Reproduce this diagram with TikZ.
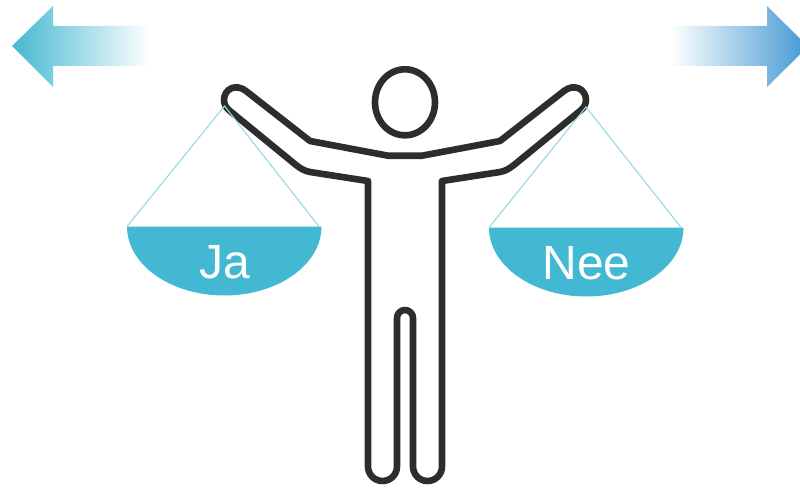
\documentclass[tikz,border=0pt]{standalone}
\usepackage{fontspec}
\setmainfont{Liberation Sans}
\definecolor{figdark}{HTML}{2D2D2D}
\definecolor{panblue}{HTML}{42B8D2}
\definecolor{stringblue}{HTML}{98D8E6}
\definecolor{arrowteal}{HTML}{45B8D2}
\definecolor{arrowblue}{HTML}{4298D2}
\tikzset{
  figline/.style={draw=figdark,line width=6.6pt,line join=round,line cap=round},
  stringline/.style={draw=stringblue,line width=1.1pt},
  panshape/.style={fill=panblue},
  panlabel/.style={text=white,font=\fontsize{48}{48}\selectfont,anchor=base,inner sep=0pt}
}
\begin{document}
\begin{tikzpicture}[x=1pt,y=-1pt]
\useasboundingbox (0,0) rectangle (800,487);
\clip (0,0) rectangle (800,487);
% arrows
\shade[left color=arrowteal,right color=white]
  (12,46) -- (53,6) -- (53,26) -- (150,26) -- (150,66) -- (53,66) -- (53,87) -- cycle;
\shade[left color=white,right color=arrowblue]
  (670,26) -- (767,26) -- (767,6) -- (808,46.5) -- (767,87) -- (767,66) -- (670,66) -- cycle;
% head
\draw[figline] (405,102.3) ellipse [x radius=30,y radius=33];
% body
\draw[figline]
  (368,181) -- (368,466.5) arc[start angle=180,end angle=0,radius=14.5]
  -- (397,318) arc[start angle=180,end angle=360,radius=8]
  -- (413,466.5) arc[start angle=180,end angle=0,radius=14.5]
  -- (442,181) -- (500,172) .. controls (506,171) and (510,168) .. (514,165)
  -- (580,111) .. controls (584,108) and (586,104) .. (586,100)
  .. controls (586,89) and (574,83) .. (564,91)
  -- (500,141) -- (422,155.7) -- (388,155.7) -- (310,141)
  -- (246,91) .. controls (236,83) and (224,89) .. (224,100)
  .. controls (224,104) and (226,108) .. (230,111)
  -- (296,165) .. controls (300,168) and (304,171) .. (310,172) -- cycle;
% pans
\fill[panshape] (127,226.5) -- (321.5,226.5) arc[start angle=0,end angle=180,x radius=97.25,y radius=69] -- cycle;
\fill[panshape] (489,227.5) -- (683.5,227.5) arc[start angle=0,end angle=180,x radius=97.25,y radius=69] -- cycle;
% strings
\coordinate (hl) at (224.5,106);
\coordinate (hr) at (586,107);
\draw[stringline] (127,226.5) -- (hl) -- (319,226.5);
\draw[stringline] (489,227.5) -- (hr) -- (681,227.5);
% labels
\node[panlabel] (ja) at (224.5,278) {Ja};
\node[panlabel] (nee) at (586.5,279) {Nee};
\end{tikzpicture}
\end{document}
